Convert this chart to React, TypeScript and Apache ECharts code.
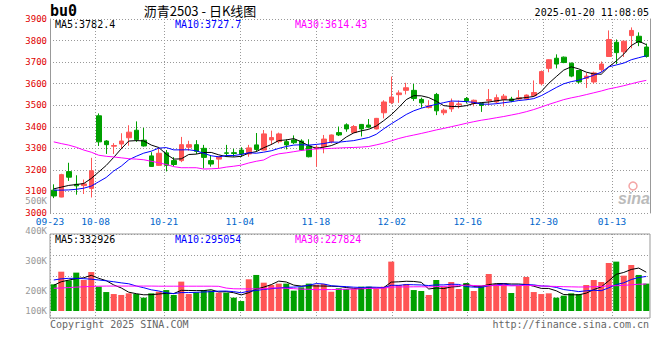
import React, { useEffect, useRef } from 'react';
import * as echarts from 'echarts';

const dates = [
  '09-23','09-24','09-25','09-26','09-27','09-30',
  '10-08','10-09','10-10','10-11','10-14','10-15','10-16','10-17','10-18','10-21','10-22','10-23','10-24','10-25','10-28','10-29','10-30','10-31',
  '11-01','11-04','11-05','11-06','11-07','11-08','11-11','11-12','11-13','11-14','11-15','11-18','11-19','11-20','11-21','11-22','11-25','11-26','11-27','11-28','11-29',
  '12-02','12-03','12-04','12-05','12-06','12-09','12-10','12-11','12-12','12-13','12-16','12-17','12-18','12-19','12-20','12-23','12-24','12-25','12-26','12-27','12-30','12-31',
  '01-02','01-03','01-06','01-07','01-08','01-09','01-10','01-13','01-14','01-15','01-16','01-17','01-20',
];

const opens = [3106,3074,3192,3133,3127,3114,3451,3334,3310,3320,
  3349,3384,3338,3265,3221,3279,3243,3243,3305,3317,
  3300,3243,3250,3279,3280,3292,3274,3316,3292,3339,
  3331,3331,3339,3334,3311,3298,3308,3331,3373,3409,
  3373,3411,3408,3390,3465,3512,3549,3569,3569,3527,
  3489,3550,3465,3483,3502,3531,3508,3508,3521,3515,
  3527,3529,3529,3529,3544,3600,3671,3718,3723,3695,
  3661,3625,3608,3665,3726,3792,3748,3823,3820,3770];

const closes = [3079,3178,3166,3126,3135,3196,3330,3317,3313,3334,
  3375,3340,3311,3216,3277,3221,3225,3317,3317,3286,
  3258,3227,3261,3277,3276,3274,3302,3295,3367,3350,
  3367,3316,3326,3292,3261,3305,3343,3362,3362,3390,
  3401,3390,3398,3439,3515,3538,3557,3581,3531,3511,
  3497,3474,3477,3513,3506,3520,3523,3499,3526,3535,
  3542,3520,3535,3547,3559,3656,3711,3691,3698,3635,
  3608,3635,3650,3691,3805,3744,3797,3847,3792,3726];

const lows = [3069,3073,3149,3085,3088,3072,3311,3274,3274,3297,
  3312,3330,3308,3214,3219,3193,3216,3236,3289,3274,
  3207,3215,3207,3261,3261,3261,3261,3284,3290,3316,
  3323,3295,3320,3289,3258,3215,3277,3323,3357,3377,
  3370,3355,3393,3388,3439,3505,3511,3550,3520,3488,
  3485,3454,3454,3469,3485,3508,3495,3469,3500,3508,
  3494,3514,3524,3524,3539,3592,3653,3671,3695,3630,
  3600,3580,3600,3653,3724,3691,3724,3764,3774,3721];

const highs = [3133,3182,3233,3175,3155,3256,3462,3338,3324,3370,
  3407,3425,3395,3282,3305,3292,3259,3353,3335,3338,
  3316,3269,3264,3316,3298,3305,3316,3371,3385,3382,
  3373,3342,3360,3342,3342,3316,3362,3364,3401,3416,
  3408,3413,3436,3441,3523,3633,3569,3604,3599,3535,
  3523,3557,3485,3531,3522,3538,3526,3511,3575,3550,
  3552,3539,3570,3550,3615,3661,3713,3736,3726,3698,
  3661,3650,3656,3703,3847,3805,3799,3861,3838,3786];

const volumes = [228000,336000,262000,328000,265000,333000,208000,162000,145000,137000,
  151000,145000,114000,151000,165000,179000,137000,251000,145000,160000,
  179000,174000,157000,157000,114000,85000,271000,308000,242000,222000,
  234000,234000,174000,202000,234000,225000,231000,165000,194000,188000,
  188000,208000,208000,188000,208000,422000,222000,231000,179000,171000,
  137000,265000,208000,248000,188000,239000,171000,214000,316000,231000,
  239000,154000,214000,291000,162000,145000,151000,114000,131000,151000,
  145000,222000,265000,248000,410000,422000,302000,393000,308000,234000];

// moving-average values before enough history exists
const priceMa5Head = [3112, 3120, 3128, 3132];
const priceMa10Head = [3106, 3106, 3107, 3110, 3115, 3125, 3145, 3165, 3195];
const priceMa30Head = [3330, 3322, 3315, 3305, 3292, 3282, 3268, 3263, 3260, 3256,
  3252, 3250, 3247, 3240, 3233, 3225, 3215, 3210, 3210, 3210,
  3204, 3205, 3207, 3213, 3217, 3222, 3232, 3240, 3246];
const volMa5Head = [220000, 250000, 264000, 277000];
const volMa10Head = [265000, 275000, 279000, 279000, 276000, 272000, 265000, 258000, 250000];
const volMa30Head = [194000, 197000, 200000, 204000, 207000, 210000, 212000, 213000, 213000, 213000,
  213000, 213000, 213000, 213000, 212000, 212000, 212000, 212000, 212000, 212000,
  212000, 212000, 211000, 196000, 190000, 189000, 189000, 189000, 189000];

const dateTickLabels = ['09-23', '10-08', '10-21', '11-04', '11-18', '12-02', '12-16', '12-30', '01-13'];
const priceMin = 3000;
const priceMax = 3900;
const priceStep = 100;
const volTickValues = [200000, 300000, 400000, 500000];
const volLabelFloor = 134400;
const volLabelFloorText = '100K';
const volScaleMax = 658000;

const titleText = '沥青2503 - 日K线图';
const symbolText = 'bu0';
const timeText = '2025-01-20 11:08:05';
const priceHeaders = ['MA5:3782.4', 'MA10:3727.7', 'MA30:3614.43'];
const volHeaders = ['MA5:332926', 'MA10:295054', 'MA30:227824'];
const maColors = ['#000000', '#0000ff', '#ff00ff'];

const UP = '#ff5555';
const DOWN = '#00a000';
const MONO = '"DejaVu Sans Mono", monospace';

function movingAvg(values: number[], n: number, head: number[]): number[] {
  return values.map((_, i) => {
    if (i < n - 1) return head[i];
    let s = 0;
    for (let k = i - n + 1; k <= i; k++) s += values[k];
    return Math.round((s / n) * 100) / 100;
  });
}

export default function App() {
  const ref = useRef<HTMLDivElement>(null);
  useEffect(() => {
    document.body.style.margin = '0';
    if (!ref.current) return;
    const chart = echarts.init(ref.current, undefined, { renderer: 'svg' });
    const labelSet = new Set(dateTickLabels);
    const pick = (idx: number, val: string) => labelSet.has(dates[idx] ?? val);
    const dotted = { type: [1, 2] as any, color: '#999', width: 1 };

    const candleData = dates.map((_, i) => [opens[i], closes[i], lows[i], highs[i]]);
    const volData = volumes.map((v, i) => ({
      value: v,
      itemStyle: { color: closes[i] >= opens[i] ? UP : DOWN },
    }));
    const pMa = [movingAvg(closes, 5, priceMa5Head), movingAvg(closes, 10, priceMa10Head), movingAvg(closes, 30, priceMa30Head)];
    const vMa = [movingAvg(volumes, 5, volMa5Head), movingAvg(volumes, 10, volMa10Head), movingAvg(volumes, 30, volMa30Head)];

    const hidden = { show: false };
    const option: any = {
      animation: false,
      backgroundColor: '#ffffff',
      grid: [
        { left: 50, top: 19, width: 600, height: 194 },
        { left: 50, top: 234, width: 600, height: 84, show: true, borderColor: '#999', borderWidth: 1 },
        { left: 50, top: 234, width: 600, height: 77 },
        { left: 50, top: 200.5, width: 600, height: 110.5 },
      ],
      xAxis: [
        { type: 'category', gridIndex: 0, data: dates, boundaryGap: true, axisLine: hidden, axisTick: hidden, axisLabel: hidden, splitLine: hidden },
        {
          type: 'category', gridIndex: 0, data: dates, boundaryGap: false, position: 'bottom',
          axisLine: hidden, axisTick: hidden,
          axisLabel: { show: true, interval: pick, color: '#0066cc', fontFamily: MONO, fontSize: 9.5, lineHeight: 9, margin: 3.5 },
          splitLine: { show: true, interval: pick, lineStyle: dotted },
        },
        {
          type: 'category', gridIndex: 1, data: dates, boundaryGap: false,
          axisLine: hidden, axisTick: hidden, axisLabel: hidden,
          splitLine: { show: true, interval: pick, lineStyle: dotted },
        },
        { type: 'category', gridIndex: 2, data: dates, boundaryGap: true, axisLine: hidden, axisTick: hidden, axisLabel: hidden, splitLine: hidden },
        { type: 'category', gridIndex: 3, data: dates, boundaryGap: true, axisLine: hidden, axisTick: hidden, axisLabel: hidden, splitLine: hidden },
      ],
      yAxis: [
        {
          type: 'value', gridIndex: 0, min: priceMin, max: priceMax, interval: priceStep, position: 'left',
          axisLine: { show: true, lineStyle: { color: '#999' } }, axisTick: hidden,
          axisLabel: { color: '#e00000', fontFamily: MONO, fontSize: 9, lineHeight: 9, margin: 3, padding: [0, 0, 4, 0], formatter: (v: number) => String(v) },
          splitLine: { show: true, lineStyle: dotted },
        },
        {
          type: 'value', gridIndex: 0, min: priceMin, max: priceMax, position: 'right',
          axisLine: { show: true, lineStyle: { color: '#999' } }, axisTick: hidden, axisLabel: hidden, splitLine: hidden,
        },
        {
          type: 'value', gridIndex: 1, min: 0, max: 4, interval: 1,
          axisLine: hidden, axisTick: hidden, axisLabel: hidden,
          splitLine: { show: true, lineStyle: dotted },
        },
        {
          type: 'value', gridIndex: 2, min: 0, max: volScaleMax,
          axisLine: hidden, axisTick: hidden, axisLabel: hidden, splitLine: hidden,
        },
        {
          type: 'value', gridIndex: 3, min: volLabelFloor, max: volTickValues[volTickValues.length - 1],
          axisLine: hidden, axisTick: hidden, splitLine: hidden,
          axisLabel: {
            show: true, color: '#999', fontFamily: MONO, fontSize: 9, lineHeight: 9, margin: 3,
            customValues: [volLabelFloor, ...volTickValues],
            formatter: (v: number) => (v === volLabelFloor ? volLabelFloorText : `${Math.round(v / 1000)}K`),
          },
        },
      ],
      series: [
        {
          type: 'candlestick', xAxisIndex: 0, yAxisIndex: 0, data: candleData, barWidth: 5,
          itemStyle: { color: UP, color0: DOWN, borderColor: UP, borderColor0: DOWN, borderWidth: 1 },
        },
        ...pMa.map((d, k) => ({
          type: 'line', xAxisIndex: 0, yAxisIndex: 0, data: d, symbol: 'none', silent: true,
          lineStyle: { color: maColors[k], width: 1 }, z: 5,
        })),
        { type: 'bar', xAxisIndex: 3, yAxisIndex: 3, data: volData, barWidth: 6 },
        ...vMa.map((d, k) => ({
          type: 'line', xAxisIndex: 3, yAxisIndex: 3, data: d, symbol: 'none', silent: true,
          lineStyle: { color: maColors[k], width: 1 }, z: 5,
        })),
      ],
      graphic: [
        { type: 'text', x: 50, y: 11, style: { text: symbolText, fill: '#000', fontFamily: MONO, fontWeight: 'bold', fontSize: 15, align: 'left', verticalAlign: 'middle' } },
        { type: 'text', x: 200, y: 10, style: { text: titleText, fill: '#000', fontFamily: '"Noto Sans CJK SC", sans-serif', fontSize: 13, align: 'center', verticalAlign: 'middle' } },
        { type: 'text', x: 649, y: 12, style: { text: timeText, fill: '#000', fontFamily: MONO, fontSize: 10, align: 'right', verticalAlign: 'middle' } },
        ...priceHeaders.map((t, k) => ({ type: 'text', x: 55 + 120 * k, y: 24, style: { text: t, fill: maColors[k], fontFamily: MONO, fontSize: 10, align: 'left', verticalAlign: 'middle' } })),
        ...volHeaders.map((t, k) => ({ type: 'text', x: 55 + 120 * k, y: 239, style: { text: t, fill: maColors[k], fontFamily: MONO, fontSize: 10, align: 'left', verticalAlign: 'middle' } })),
        { type: 'text', x: 50, y: 324, style: { text: 'Copyright 2025 SINA.COM', fill: '#666', fontFamily: MONO, fontSize: 10, align: 'left', verticalAlign: 'middle' } },
        { type: 'text', x: 649, y: 324, style: { text: 'http://finance.sina.com.cn', fill: '#666', fontFamily: MONO, fontSize: 10, align: 'right', verticalAlign: 'middle' } },
        { type: 'circle', shape: { cx: 633, cy: 186, r: 4 }, style: { fill: 'none', stroke: '#f4a6a6', lineWidth: 1.5 } },
        { type: 'text', x: 634, y: 198, style: { text: 'sina', fill: '#bbb', fontFamily: '"Liberation Sans", sans-serif', fontStyle: 'italic', fontWeight: 'bold', fontSize: 16, align: 'center', verticalAlign: 'middle' } },
      ],
    };
    chart.setOption(option);
    return () => chart.dispose();
  }, []);
  return <div ref={ref} style={{ width: 660, height: 360 }} />;
}
